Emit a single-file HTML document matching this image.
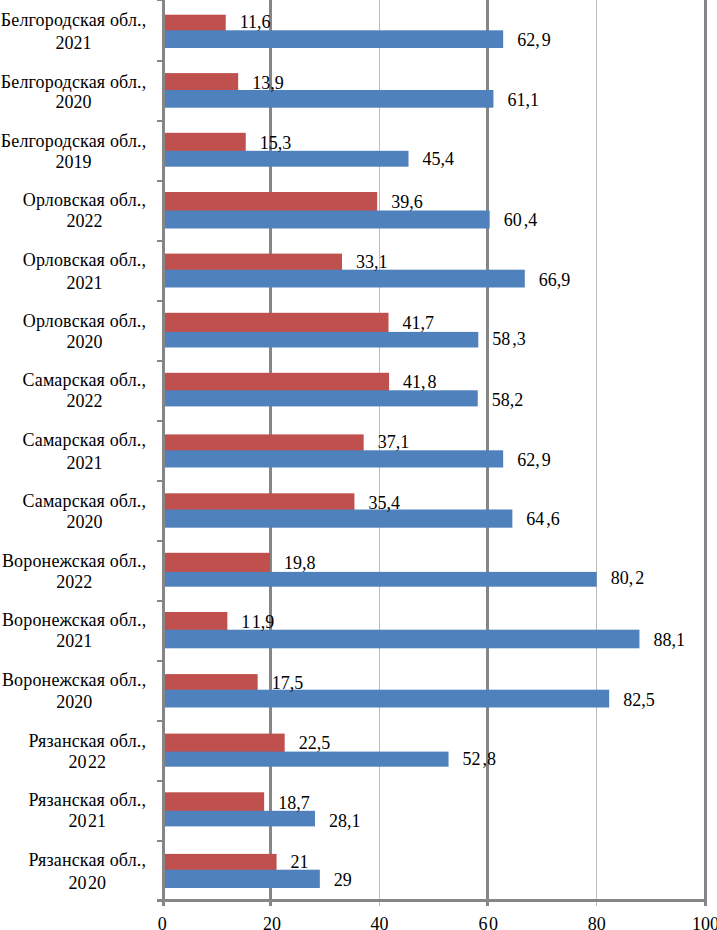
<!DOCTYPE html>
<html><head><meta charset="utf-8"><style>
html,body{margin:0;padding:0;background:#fff;}
body{width:717px;height:930px;overflow:hidden;}
svg{display:block;}
text{font-family:"Liberation Serif",serif;font-size:18px;fill:#000;}
</style></head><body>
<svg width="717" height="930" viewBox="0 0 717 930">
<rect width="717" height="930" fill="#fff"/>
<rect x="269" y="0" width="3" height="906" fill="#868686"/>
<rect x="379" y="0" width="1" height="906" fill="#BDBDBD"/>
<rect x="486" y="0" width="3" height="906" fill="#868686"/>
<rect x="596" y="0" width="1" height="906" fill="#BDBDBD"/>
<rect x="704" y="0" width="3" height="906" fill="#868686"/>
<rect x="164" y="14.7" width="61.73" height="16.6" fill="#C0504D"/>
<rect x="164" y="30.3" width="339.16" height="17.7" fill="#4F81BD"/>
<rect x="164" y="73.1" width="74.17" height="17.9" fill="#C0504D"/>
<rect x="164" y="90" width="329.43" height="17.7" fill="#4F81BD"/>
<rect x="164" y="132.8" width="81.74" height="19" fill="#C0504D"/>
<rect x="164" y="150.8" width="244.52" height="15.9" fill="#4F81BD"/>
<rect x="164" y="192" width="213.16" height="19.5" fill="#C0504D"/>
<rect x="164" y="210.5" width="325.64" height="18" fill="#4F81BD"/>
<rect x="164" y="253.6" width="178" height="17.1" fill="#C0504D"/>
<rect x="164" y="269.7" width="360.8" height="17.8" fill="#4F81BD"/>
<rect x="164" y="312.8" width="224.51" height="20.1" fill="#C0504D"/>
<rect x="164" y="331.9" width="314.29" height="15.6" fill="#4F81BD"/>
<rect x="164" y="372.8" width="225.05" height="18.5" fill="#C0504D"/>
<rect x="164" y="390.3" width="313.75" height="16.1" fill="#4F81BD"/>
<rect x="164" y="434.4" width="199.64" height="16.9" fill="#C0504D"/>
<rect x="164" y="450.3" width="339.16" height="17.2" fill="#4F81BD"/>
<rect x="164" y="493.3" width="190.44" height="17.2" fill="#C0504D"/>
<rect x="164" y="509.5" width="348.36" height="18.2" fill="#4F81BD"/>
<rect x="164" y="552.8" width="106.08" height="20.1" fill="#C0504D"/>
<rect x="164" y="571.9" width="432.72" height="14.8" fill="#4F81BD"/>
<rect x="164" y="612" width="63.36" height="18.7" fill="#C0504D"/>
<rect x="164" y="629.7" width="475.44" height="18.6" fill="#4F81BD"/>
<rect x="164" y="674.1" width="93.64" height="16.6" fill="#C0504D"/>
<rect x="164" y="689.7" width="445.16" height="17.8" fill="#4F81BD"/>
<rect x="164" y="733.6" width="120.68" height="19" fill="#C0504D"/>
<rect x="164" y="751.6" width="284.54" height="15.1" fill="#4F81BD"/>
<rect x="164" y="792.3" width="100.13" height="19.5" fill="#C0504D"/>
<rect x="164" y="810.8" width="150.96" height="15.6" fill="#4F81BD"/>
<rect x="164" y="853.9" width="112.57" height="16.8" fill="#C0504D"/>
<rect x="164" y="869.7" width="155.83" height="18.3" fill="#4F81BD"/>
<rect x="162" y="0" width="3" height="906" fill="#868686"/>
<rect x="157" y="899" width="550" height="3" fill="#868686"/>
<rect x="157" y="0" width="6" height="1" fill="#868686"/>
<rect x="157" y="60" width="6" height="2" fill="#868686"/>
<rect x="157" y="120" width="6" height="2" fill="#868686"/>
<rect x="157" y="180" width="6" height="2" fill="#868686"/>
<rect x="157" y="240" width="6" height="2" fill="#868686"/>
<rect x="157" y="300" width="6" height="2" fill="#868686"/>
<rect x="157" y="360" width="6" height="2" fill="#868686"/>
<rect x="157" y="420" width="6" height="2" fill="#868686"/>
<rect x="157" y="480" width="6" height="2" fill="#868686"/>
<rect x="157" y="540" width="6" height="2" fill="#868686"/>
<rect x="157" y="600" width="6" height="2" fill="#868686"/>
<rect x="157" y="660" width="6" height="2" fill="#868686"/>
<rect x="157" y="720" width="6" height="2" fill="#868686"/>
<rect x="157" y="780" width="6" height="2" fill="#868686"/>
<rect x="157" y="840" width="6" height="2" fill="#868686"/>
<g shape-rendering="auto">
<text x="73.59" y="26.3" text-anchor="middle" letter-spacing="0.16">Белгородская обл.,</text>
<text x="73.59" y="49" text-anchor="middle">2021</text>
<text x="239.73" y="27.5">11,6</text>
<text x="517.16" y="46">62,<tspan dx="2.0">9</tspan></text>
<text x="73.59" y="87.5" text-anchor="middle" letter-spacing="0.16">Белгородская обл.,</text>
<text x="73.59" y="108.2" text-anchor="middle">2020</text>
<text x="252.17" y="88.9">13,9</text>
<text x="507.43" y="106">61,1</text>
<text x="73.59" y="147" text-anchor="middle" letter-spacing="0.16">Белгородская обл.,</text>
<text x="73.59" y="167.6" text-anchor="middle">2019</text>
<text x="259.74" y="148.5">15,3</text>
<text x="422.52" y="164.8">45,4</text>
<text x="84.47" y="206.3" text-anchor="middle" letter-spacing="0.16">Орловская обл.,</text>
<text x="84.47" y="226.7" text-anchor="middle">2022</text>
<text x="391.16" y="207.6">39,6</text>
<text x="503.64" y="226.4">60<tspan dx="2.0">,4</tspan></text>
<text x="84.47" y="265.8" text-anchor="middle" letter-spacing="0.16">Орловская обл.,</text>
<text x="84.47" y="288.5" text-anchor="middle">2021</text>
<text x="356" y="267.6">33,1</text>
<text x="538.8" y="285.6">66,9</text>
<text x="84.47" y="327.2" text-anchor="middle" letter-spacing="0.16">Орловская обл.,</text>
<text x="84.47" y="348.1" text-anchor="middle">2020</text>
<text x="402.51" y="328.9">41,7</text>
<text x="492.29" y="345.2">58<tspan dx="2.0">,3</tspan></text>
<text x="84.41" y="386.3" text-anchor="middle" letter-spacing="0.16">Самарская обл.,</text>
<text x="84.41" y="407.2" text-anchor="middle">2022</text>
<text x="403.05" y="387.9">41,<tspan dx="2.0">8</tspan></text>
<text x="491.75" y="406.4">58,2</text>
<text x="84.41" y="446.3" text-anchor="middle" letter-spacing="0.16">Самарская обл.,</text>
<text x="84.41" y="468.5" text-anchor="middle">2021</text>
<text x="377.64" y="447.6">37,1</text>
<text x="517.16" y="466">62,<tspan dx="2.0">9</tspan></text>
<text x="84.41" y="507.4" text-anchor="middle" letter-spacing="0.16">Самарская обл.,</text>
<text x="84.41" y="528.1" text-anchor="middle">2020</text>
<text x="368.44" y="508.9">35,4</text>
<text x="526.36" y="525.2">64<tspan dx="2.0">,6</tspan></text>
<text x="74.16" y="567.2" text-anchor="middle" letter-spacing="0.16">Воронежская обл.,</text>
<text x="74.16" y="587.7" text-anchor="middle">2022</text>
<text x="284.08" y="568.9">19,8</text>
<text x="610.72" y="584.4">80,<tspan dx="2.0">2</tspan></text>
<text x="74.16" y="626" text-anchor="middle" letter-spacing="0.16">Воронежская обл.,</text>
<text x="74.16" y="646.8" text-anchor="middle">2021</text>
<text x="241.36" y="628">1<tspan dx="2.0">1,9</tspan></text>
<text x="653.44" y="646.4">88,1</text>
<text x="74.16" y="686.3" text-anchor="middle" letter-spacing="0.16">Воронежская обл.,</text>
<text x="74.16" y="708" text-anchor="middle">2020</text>
<text x="271.64" y="689.3">17,5</text>
<text x="623.16" y="705.6">82,5</text>
<text x="87.37" y="746.9" text-anchor="middle" letter-spacing="0.16">Рязанская обл.,</text>
<text x="87.37" y="767.7" text-anchor="middle">20<tspan dx="1.5">22</tspan></text>
<text x="298.68" y="748.9">22,5</text>
<text x="462.54" y="764.8">52<tspan dx="2.0">,8</tspan></text>
<text x="87.37" y="806.3" text-anchor="middle" letter-spacing="0.16">Рязанская обл.,</text>
<text x="87.37" y="827.2" text-anchor="middle">20<tspan dx="1.5">21</tspan></text>
<text x="278.13" y="808.5">18,7</text>
<text x="328.96" y="826.9">28,1</text>
<text x="87.37" y="866" text-anchor="middle" letter-spacing="0.16">Рязанская обл.,</text>
<text x="87.37" y="888.9" text-anchor="middle">20<tspan dx="1.5">20</tspan></text>
<text x="290.57" y="867.6">21</text>
<text x="333.83" y="886">29</text>
<text x="162.3" y="929.5" text-anchor="middle">0</text>
<text x="272" y="929.5" text-anchor="middle">20</text>
<text x="379.5" y="929.5" text-anchor="middle">40</text>
<text x="488.2" y="929.5" text-anchor="middle">6<tspan dx="1.5">0</tspan></text>
<text x="596.7" y="929.5" text-anchor="middle">80</text>
<text x="705.5" y="929.5" text-anchor="middle">100</text>
</g>
</svg>
</body></html>
